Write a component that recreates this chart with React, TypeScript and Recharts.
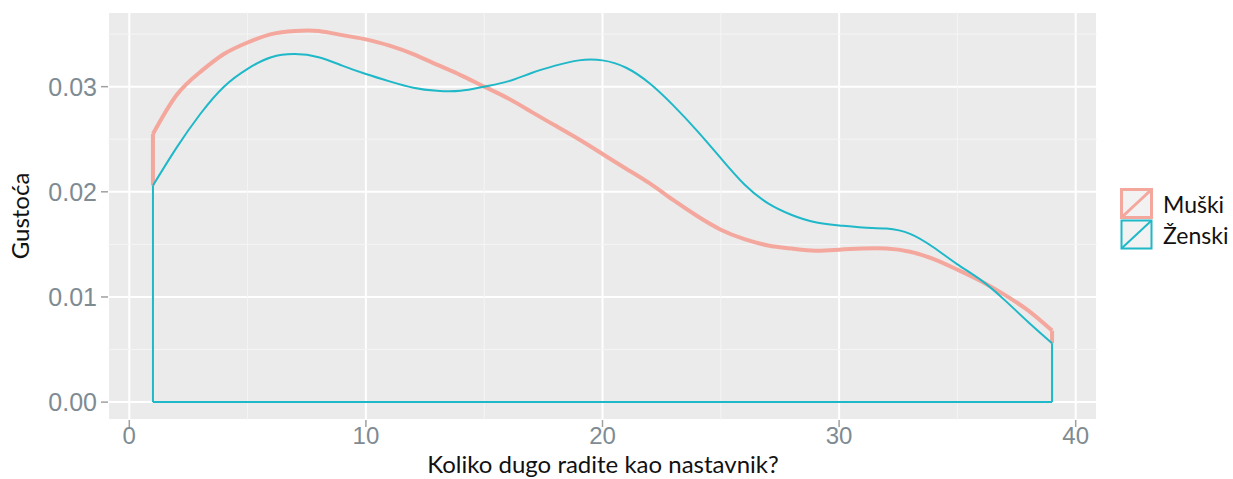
import React from 'react'
import {
  ComposedChart,
  Line,
  XAxis,
  YAxis,
  CartesianGrid,
  ReferenceLine,
  Legend,
} from 'recharts'

// years of teaching experience (density evaluated from 1 to 39)
const years = [
  1, 2, 3, 4, 5, 6, 7, 8, 9, 10, 11, 12, 13, 14, 15, 16, 17, 18, 19, 20,
  21, 22, 23, 24, 25, 26, 27, 28, 29, 30, 31, 32, 33, 34, 35, 36, 37, 38, 39,
]

const muski = [
  0.0255, 0.0292, 0.0314, 0.0331, 0.0342, 0.035, 0.0353, 0.0353, 0.0349, 0.0345,
  0.0339, 0.0331, 0.0321, 0.0311, 0.03, 0.0289, 0.0276, 0.0263, 0.025, 0.0236,
  0.0222, 0.0208, 0.0192, 0.0177, 0.0164, 0.0155, 0.0149, 0.0146, 0.0144, 0.0145,
  0.0146, 0.0146, 0.0143, 0.0136, 0.0126, 0.0115, 0.0102, 0.0087, 0.0068,
]

const zenski = [
  0.0206, 0.0242, 0.0274, 0.03, 0.0317, 0.0328, 0.0331, 0.0328, 0.032, 0.0312,
  0.0305, 0.0299, 0.0296, 0.0296, 0.03, 0.0305, 0.0313, 0.032, 0.0325, 0.0325,
  0.0318, 0.0303, 0.0282, 0.0258, 0.0232, 0.0207, 0.0189, 0.0178, 0.0171, 0.0168,
  0.0166, 0.0165, 0.016, 0.0147, 0.0131, 0.0116, 0.0097, 0.0076, 0.0056,
]

const seriesNames = ['Muški', 'Ženski']
const xTicks = [0, 10, 20, 30, 40]
const yTicks = [0, 0.01, 0.02, 0.03]
const xMinor = [5, 15, 25, 35]
const yMinor = [0.005, 0.015, 0.025, 0.035]

const RED = '#F4A79D'
const TEAL = '#1EB8C8'
const TICK_COLOR = '#7E8B93'
const LABEL_FONT = 'Lato, "Open Sans", sans-serif'
const TICK_FONT = 'Liberation Sans, Arial, sans-serif'

const data = years.map((x, i) => ({ x, muski: muski[i], zenski: zenski[i] }))

const first = years[0]
const last = years[years.length - 1]

// closing edges of the density outline (left side, right side, baseline)
function edges(vals: number[], from: number[] | null) {
  const lo0 = from ? from[0] : 0
  const lo1 = from ? from[from.length - 1] : 0
  const segs = [
    [{ x: first, y: lo0 }, { x: first, y: vals[0] }],
    [{ x: last, y: lo1 }, { x: last, y: vals[vals.length - 1] }],
  ]
  if (!from) segs.push([{ x: first, y: 0 }, { x: last, y: 0 }])
  return segs
}

function LegendKeys() {
  const colors = [RED, TEAL]
  const widths = [3, 2]
  return (
    <div style={{ fontFamily: LABEL_FONT, fontSize: 23, color: '#111' }}>
      {seriesNames.map((n, i) => (
        <div key={n} style={{ display: 'flex', alignItems: 'center', height: 31 }}>
          <svg width={34} height={31}>
            <rect x={1.5} y={1.5} width={30} height={28} fill="#F2F2F2" stroke={colors[i]} strokeWidth={widths[i]} />
            <line x1={2} y1={29} x2={31} y2={2} stroke={colors[i]} strokeWidth={widths[i]} />
          </svg>
          <span style={{ marginLeft: 9 }}>{n}</span>
        </div>
      ))}
    </div>
  )
}

export default function App() {
  return (
    <div style={{ position: 'absolute', left: 0, top: 0, background: '#fff' }}>
      <ComposedChart
        width={1233}
        height={479}
        data={data}
        margin={{ top: 12, right: 136, bottom: 23, left: 0 }}
      >
        <CartesianGrid fill="#EBEBEB" stroke="#FFFFFF" strokeWidth={2} />
        {xMinor.map((v) => (
          <ReferenceLine key={'xm' + v} x={v} stroke="#F5F5F5" strokeWidth={1} />
        ))}
        {yMinor.map((v) => (
          <ReferenceLine key={'ym' + v} y={v} stroke="#F5F5F5" strokeWidth={1} />
        ))}
        <XAxis
          dataKey="x"
          type="number"
          domain={[-0.9, 40.9]}
          ticks={xTicks}
          axisLine={false}
          tickSize={7}
          tickMargin={0}
          height={36}
          tickLine={{ stroke: '#A0A0A0', strokeWidth: 1.5 }}
          tick={{ fill: TICK_COLOR, fontSize: 24, fontFamily: TICK_FONT }}
          label={{
            content: () => (
              <text x={603} y={473} textAnchor="middle" fontFamily={LABEL_FONT} fontSize={24} fill="#111">
                Koliko dugo radite kao nastavnik?
              </text>
            ),
          }}
        />
        <YAxis
          type="number"
          domain={[-0.0017, 0.0371]}
          ticks={yTicks}
          tickFormatter={(v: number) => v.toFixed(2)}
          axisLine={false}
          width={108}
          tickSize={7}
          tickMargin={4}
          tickLine={{ stroke: '#A0A0A0', strokeWidth: 1.5 }}
          tick={{ fill: TICK_COLOR, fontSize: 25, fontFamily: TICK_FONT }}
          label={{
            content: () => (
              <text
                x={29}
                y={216}
                transform="rotate(-90 29 216)"
                textAnchor="middle"
                fontFamily={LABEL_FONT}
                fontSize={24}
                fill="#111"
              >
                Gustoća
              </text>
            ),
          }}
        />
        <Line
          dataKey="muski"
          name={seriesNames[0]}
          type="natural"
          stroke={RED}
          strokeWidth={4}
          dot={false}
          activeDot={false}
          isAnimationActive={false}
        />
        {edges(muski, zenski).map((seg, i) => (
          <ReferenceLine key={'me' + i} segment={seg} stroke={RED} strokeWidth={4} ifOverflow="visible" />
        ))}
        <Line
          dataKey="zenski"
          name={seriesNames[1]}
          type="natural"
          stroke={TEAL}
          strokeWidth={2}
          dot={false}
          activeDot={false}
          isAnimationActive={false}
        />
        {edges(zenski, null).map((seg, i) => (
          <ReferenceLine key={'ze' + i} segment={seg} stroke={TEAL} strokeWidth={2} ifOverflow="visible" />
        ))}
        <Legend
          layout="vertical"
          align="center"
          verticalAlign="middle"
          content={() => <LegendKeys />}
          wrapperStyle={{ left: 1120, top: 188, width: 113 }}
        />
      </ComposedChart>
    </div>
  )
}
